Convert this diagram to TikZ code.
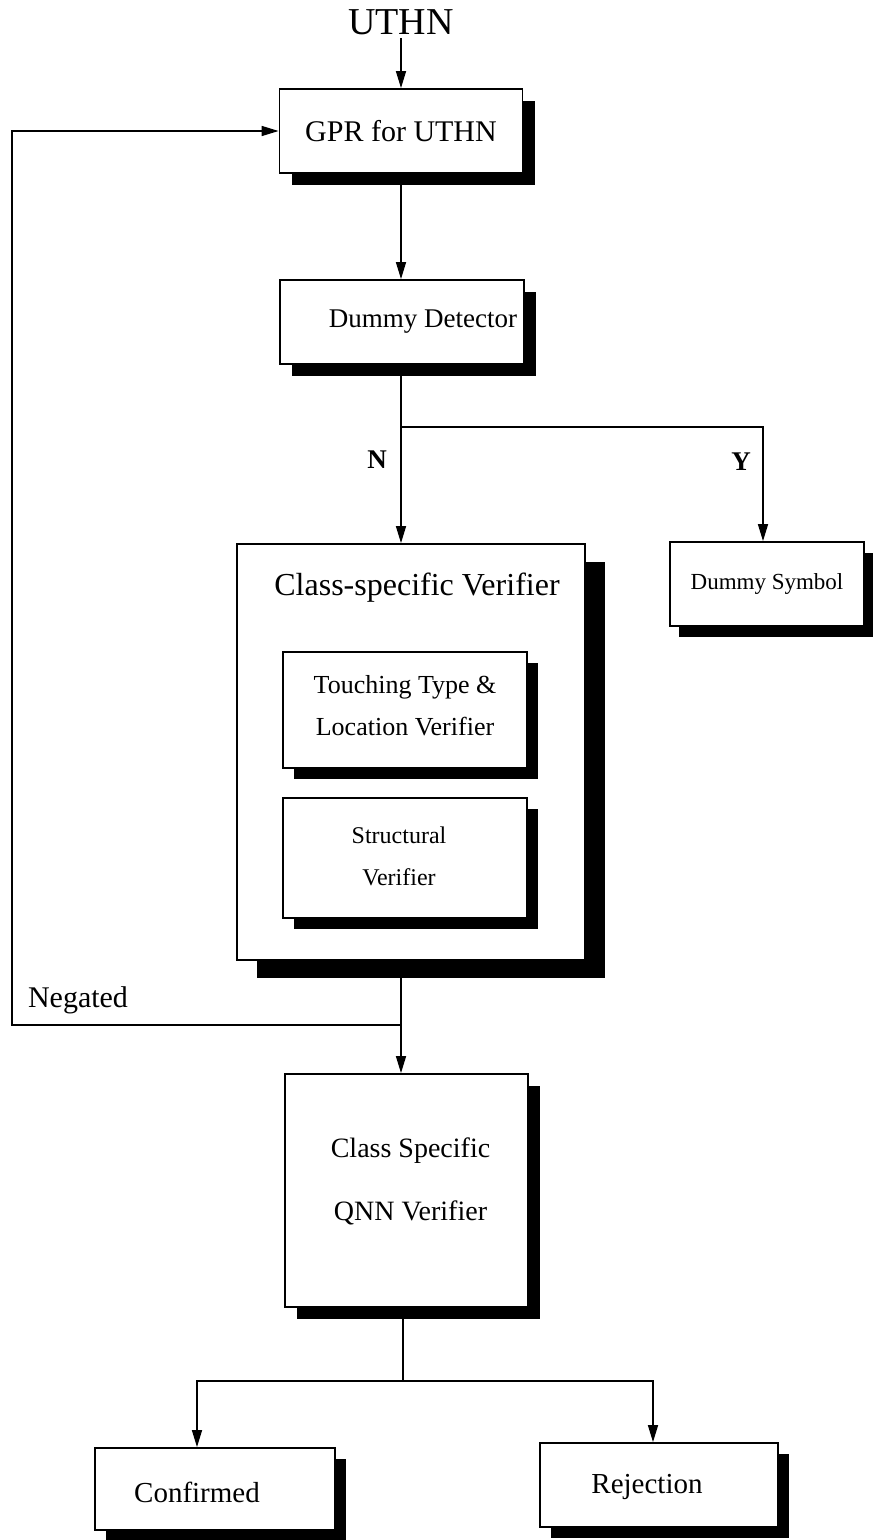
\documentclass[tikz,border=0pt]{standalone}
\usepackage{fontspec}
\setmainfont{Liberation Serif}
\usetikzlibrary{arrows.meta,shadows}

\begin{document}
\begin{tikzpicture}[x=1pt,y=-1pt,
  box/.style={draw, fill=white, line width=1.8pt, inner sep=0pt, align=center},
  shadowed/.style={general shadow={fill=black, shadow xshift=#1, shadow yshift=-#1}},
  link/.style={line width=1.5pt},
  arr/.style={link, -{Triangle[length=17pt,width=10pt]}},
  fs/.style={font=\fontsize{#1}{#1}\selectfont},
  tag/.style={font=\fontsize{27}{27}\selectfont\bfseries},
]
\useasboundingbox (0,0) rectangle (873,1540);

% input label and the top two stages
\node[fs=38] (ut) at (401,22) {UTHN};
\node[box, shadowed=12pt, minimum width=243pt, minimum height=84pt, fs=30] (gpr) at (401,131) {GPR for UTHN};
\node[box, shadowed=12pt, minimum width=244pt, minimum height=84pt,
      label={[fs=27, xshift=21pt]center:Dummy Detector}] (det) at (402,322) {};

% class-specific verifier with its two inner checks
\node[box, general shadow={fill=black, shadow xshift=20pt, shadow yshift=-18pt},
      minimum width=348pt, minimum height=416pt] (csv) at (411,752) {};
\node[fs=32] (csvt) at (417,588) {Class-specific Verifier};
\node[box, shadowed=11pt, minimum width=244pt, minimum height=116pt,
      font=\fontsize{26}{42}\selectfont,
      label={[font=\fontsize{26}{42}\selectfont, align=center, yshift=4pt]center:Touching Type \&\\Location Verifier}] (tt) at (405,710) {};
\node[box, shadowed=11pt, minimum width=244pt, minimum height=120pt,
      label={[font=\fontsize{24}{42}\selectfont, align=center, xshift=-6pt, yshift=2pt]center:Structural\\Verifier}] (sv) at (405,858) {};

% dummy branch target
\node[box, general shadow={fill=black, shadow xshift=9pt, shadow yshift=-11pt},
      minimum width=194pt, minimum height=84pt, fs=23] (ds) at (767,584) {Dummy Symbol};

% neural verifier and final outcomes
\node[box, shadowed=12pt, minimum width=243pt, minimum height=233pt,
      label={[font=\fontsize{28}{63}\selectfont, align=center, xshift=4pt, yshift=9pt]center:Class Specific\\QNN Verifier}] (qnn) at (406.5,1190.5) {};
\node[box, shadowed=11pt, minimum width=240pt, minimum height=82pt,
      label={[fs=29, xshift=-18pt, yshift=-3pt]center:Confirmed}] (conf) at (215,1489) {};
\node[box, shadowed=11pt, minimum width=238pt, minimum height=84pt,
      label={[fs=29, xshift=-12pt, yshift=-2pt]center:Rejection}] (rej) at (659,1485) {};

% branch points
\coordinate (br1) at (401,427);
\coordinate (neg) at (401,1025);
\coordinate (loop) at (12,131);
\coordinate (br2) at (403,1381);

% connectors
\draw[arr] (ut) -- (gpr);
\draw[arr] (gpr.south) -- (gpr.south |- det.north);
\draw[link] (det.south -| br1) -- (br1);
\draw[arr] (br1) -- (br1 |- csv.north);
\draw[arr] (br1) -| ([xshift=-4pt]ds.north);
\draw[link] (br1 |- csv.south) -- (neg);
\draw[arr] (neg) -- (neg |- qnn.north);
\draw[arr] (neg) -| (loop) -- (gpr.west);
\draw[link] (br2 |- qnn.south) -- (br2);
\draw[arr] (br2) -| ([xshift=-18pt]conf.north);
\draw[arr] (br2) -| ([xshift=-6pt]rej.north);

% branch labels
\node[tag] (lN) at (377,460) {N};
\node[tag] (lY) at (741,462) {Y};
\node[fs=30] (lneg) at (78,1000) {Negated};
\end{tikzpicture}
\end{document}
